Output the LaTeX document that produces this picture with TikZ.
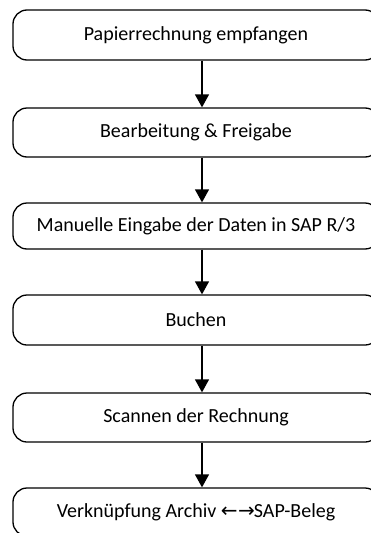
\documentclass[tikz,border=0pt]{standalone}
\usepackage{fontspec}
\setmainfont{Carlito}
\newfontfamily\arrowfont{DejaVu Sans}
\usetikzlibrary{arrows.meta, positioning}

\begin{document}
\begin{tikzpicture}[
  x=1pt, y=-1pt,
  every node/.style={font=\fontsize{20}{24}\selectfont},
  stepbox/.style={rectangle, draw, line width=1.3pt, rounded corners=14pt, minimum width=366pt, inner sep=0pt, align=center},
  flow/.style={line width=1.3pt, -{Triangle[length=13pt, width=14pt]}},
]
\useasboundingbox (0,0) rectangle (370,533);

% process steps
\node[stepbox, minimum height=50pt] (s1) at (196, 35) {Papierrechnung empfangen};
\node[stepbox, minimum height=49pt] (s2) at (196, 132.5) {Bearbeitung \& Freigabe};
\node[stepbox, minimum height=46pt] (s3) at (196, 226) {Manuelle Eingabe der Daten in SAP R/3};
\node[stepbox, minimum height=50pt] (s4) at (196, 320) {Buchen};
\node[stepbox, minimum height=49pt] (s5) at (196, 417.5) {Scannen der Rechnung};
\node[stepbox, minimum height=48pt] (s6) at (196, 512) {Verknüpfung Archiv {\arrowfont\fontsize{20}{24}\selectfont←\kern0.5pt→\kern-1pt}SAP-Beleg};

% arrows
\draw[flow] ([xshift=6pt]s1.south) -- ([xshift=6pt]s2.north);
\draw[flow] ([xshift=6pt]s2.south) -- ([xshift=6pt]s3.north);
\draw[flow] ([xshift=6pt]s3.south) -- ([xshift=6pt]s4.north);
\draw[flow] ([xshift=6pt]s4.south) -- ([xshift=6pt]s5.north);
\draw[flow] ([xshift=6pt]s5.south) -- ([xshift=6pt]s6.north);

\end{tikzpicture}
\end{document}
